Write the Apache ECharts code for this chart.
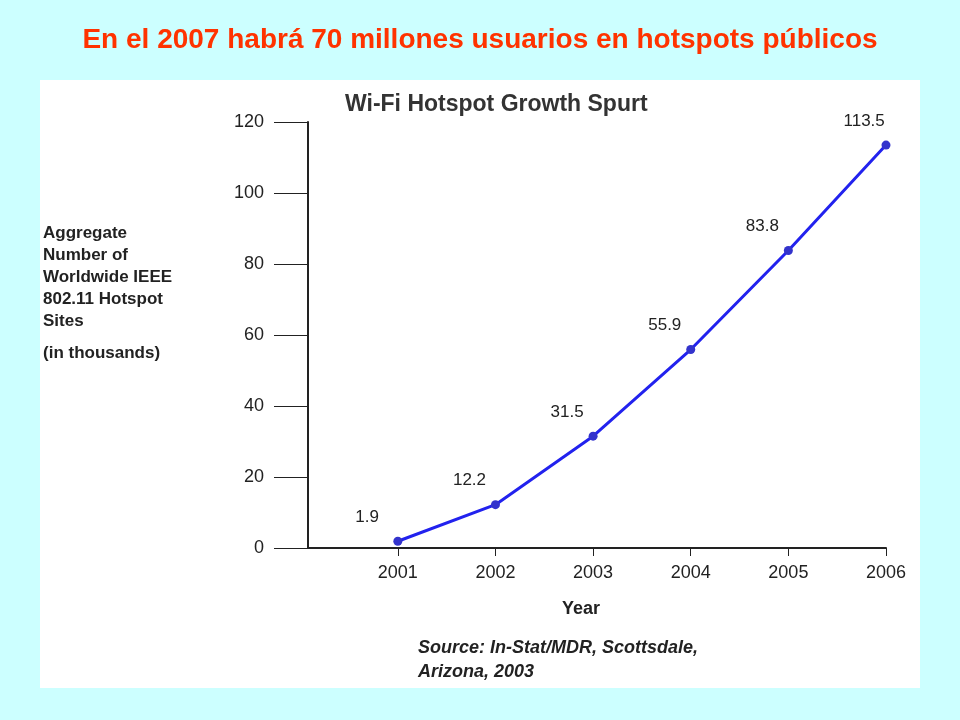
<!DOCTYPE html>
<html><head><meta charset="utf-8">
<script src="https://cdn.jsdelivr.net/npm/echarts@6/dist/echarts.min.js"></script>
<style>html,body{margin:0;padding:0;background:#CCFFFF}#c{width:960px;height:720px}</style>
</head><body><div id="c"></div>
<script>
const years = [2001, 2002, 2003, 2004, 2005, 2006];
const values = [1.9, 12.2, 31.5, 55.9, 83.8, 113.5];
const yTicks = [0, 20, 40, 60, 80, 100, 120];
const chart = echarts.init(document.getElementById('c'));
const f = 'Liberation Sans, Arial, sans-serif';
chart.setOption({
  backgroundColor: '#CCFFFF',
  animation: false,
  graphic: [
    {type:'rect', shape:{x:40,y:80,width:880,height:608}, style:{fill:'#fff'}, z:-10},
    {type:'text', left:'center', top:26, style:{text:'En el 2007 habrá 70 millones usuarios en hotspots públicos', font:'bold 28px '+f, fill:'#FF3300'}},
    {type:'text', left:345, top:93, style:{text:'Wi-Fi Hotspot Growth Spurt', font:'bold 23px '+f, fill:'#333'}},
    {type:'text', left:43, top:222, style:{text:'Aggregate\nNumber of\nWorldwide IEEE\n802.11 Hotspot\nSites', font:'bold 17px '+f, fill:'#222', lineHeight:22}},
    {type:'text', left:43, top:345, style:{text:'(in thousands)', font:'bold 17px '+f, fill:'#222'}},
    {type:'text', left:562, top:600, style:{text:'Year', font:'bold 18px '+f, fill:'#222'}},
    {type:'text', left:418, top:636, style:{text:'Source: In-Stat/MDR, Scottsdale,\nArizona, 2003', font:'italic bold 18px '+f, fill:'#222', lineHeight:24}}
  ],
  grid: {left:308, right:74, top:122, bottom:172},
  xAxis: {
    type:'value', min:2000.08, max:2006,
    axisLine:{show:true, onZero:false, lineStyle:{color:'#222', width:2}},
    axisTick:{show:true, length:8, customValues: years, lineStyle:{color:'#222'}},
    splitLine:{show:false},
    axisLabel:{customValues: years, formatter: v => String(v), color:'#222', fontSize:18, fontFamily:f, margin:16}
  },
  yAxis: {
    type:'value', min:0, max:120, interval:20,
    axisLine:{show:true, lineStyle:{color:'#222', width:2}},
    axisTick:{show:true, length:34, lineStyle:{color:'#222'}},
    splitLine:{show:false},
    axisLabel:{color:'#222', fontSize:18, fontFamily:f, margin:44,
      formatter: v => yTicks.includes(v) ? String(v) : ''}
  },
  series: [{
    type:'line',
    data: years.map((y,i)=>[y, values[i]]),
    symbol:'circle', symbolSize:9,
    lineStyle:{color:'#2222EE', width:3},
    itemStyle:{color:'#3333CC'},
    label:{show:true, position:[-38,-28], color:'#222', fontSize:17, fontFamily:f}
  }]
});
</script></body></html>
